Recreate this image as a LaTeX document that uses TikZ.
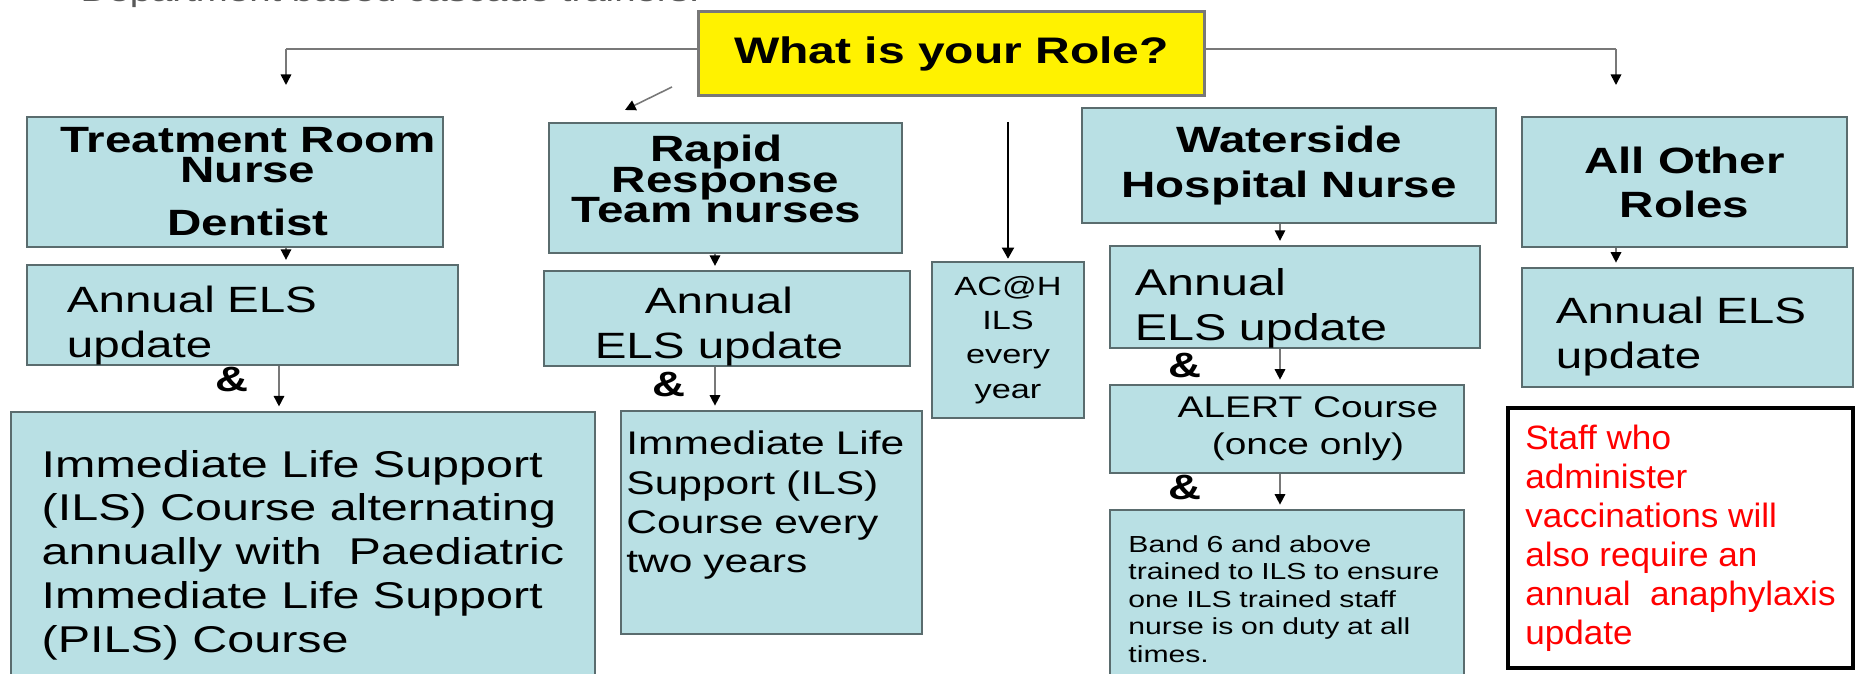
\documentclass[tikz,border=0pt]{standalone}
\usepackage{fontspec}
\setmainfont{Liberation Sans}[FakeStretch=1.3]
\newfontfamily\notefont{Liberation Sans}[FakeStretch=1.04]
\usetikzlibrary{arrows.meta}
\definecolor{boxblue}{RGB}{185,224,228}
\definecolor{boxedge}{RGB}{90,108,110}
\definecolor{linegrey}{RGB}{120,120,120}
\lineskiplimit=-10pt
\tikzset{
  rolebox/.style={draw=boxedge, fill=boxblue, line width=0.6pt, inner sep=0pt},
  headtext/.style={font=\fontsize{10.4}{12.8}\selectfont\bfseries, align=center},
  bodytext/.style={font=\fontsize{10.4}{12.8}\selectfont},
  amp/.style={font=\fontsize{10}{12}\selectfont\bfseries, anchor=base, inner sep=0pt},
  branch/.style={draw=linegrey, line width=0.75pt},
  stepline/.style={draw=linegrey, line width=0.45pt, -{Triangle[length=3pt,width=3pt,color=black]}, shorten >=1.2pt},
}

\begin{document}
\begin{tikzpicture}[x=0.01cm, y=-0.01cm]
                    \useasboundingbox (0,0) rectangle (1856,674);
                    \clip (0,0) rectangle (1856,674);

                    \node[anchor=base west, inner sep=0pt, text=black!65, font=\fontsize{8.4}{10}\selectfont] (dept) at (80,1.5) {Department based cascade trainers.};

                    \node[rolebox, fill=yellow, draw=linegrey, line width=0.85pt, minimum width=5.05cm, minimum height=0.83cm, font=\fontsize{10.5}{12.8}\selectfont\bfseries] (role) at (951.5,53.5) {What is your Role?};

                    \node[rolebox, headtext, font=\fontsize{10.4}{8.5}\selectfont\bfseries, minimum width=4.16cm, minimum height=1.30cm] (treat) at (235,182) {\hspace*{0.26cm}Treatment Room\\\hspace*{0.26cm}Nurse\\[6.6pt]\hspace*{0.26cm}Dentist};
                    \node[rolebox, bodytext, align=left, text width=3.51cm, minimum width=4.31cm, minimum height=0.94cm] (els1) at (242.5,315) {\rule{0pt}{0.47cm}Annual ELS\\update};
                    \node[rolebox, bodytext, font=\fontsize{10.6}{12.5}\selectfont, align=left, minimum width=5.84cm, minimum height=2.87cm] (ils1) at (303,555.3) {Immediate Life Support\\(ILS) Course alternating\\annually with\ \ Paediatric\\Immediate Life Support\\(PILS) Course};

                    \node[rolebox, headtext, font=\fontsize{10.4}{8.68}\selectfont\bfseries, minimum width=3.53cm, minimum height=1.30cm] (rapid) at (725.5,188) {Rapid\hspace*{0.18cm}\\Response\hspace*{0.18cm}\\Team nurses\hspace*{0.18cm}\rule[-0.18cm]{0pt}{0.18cm}};
                    \node[rolebox, bodytext, align=center, minimum width=3.66cm, minimum height=0.93cm] (els2) at (727,318.5) {\rule{0pt}{0.42cm}Annual\hspace*{0.16cm}\\ELS update\hspace*{0.16cm}};
                    \node[rolebox, bodytext, font=\fontsize{9.3}{11.2}\selectfont, align=left, text width=2.9cm, minimum width=3.01cm, minimum height=2.23cm] (ils2) at (771.5,522.5) {Immediate Life\\Support (ILS)\\Course every\\two years\rule[-0.41cm]{0pt}{0.41cm}};

                    \node[rolebox, bodytext, font=\fontsize{7.5}{9.77}\selectfont, align=center, minimum width=1.52cm, minimum height=1.56cm] (acah) at (1008,340) {AC@H\\ILS\\every\\year};

                    \node[rolebox, headtext, minimum width=4.14cm, minimum height=1.15cm] (water) at (1289,165.5) {Waterside\\Hospital Nurse};
                    \node[rolebox, bodytext, font=\fontsize{10.6}{12.8}\selectfont, align=left, text width=3.2cm, minimum width=3.70cm, minimum height=0.94cm] (els3) at (1295,297) {\rule{0pt}{0.49cm}Annual\\ELS update};
                    \node[rolebox, bodytext, font=\fontsize{8.5}{10.5}\selectfont, align=center, minimum width=3.54cm, minimum height=0.88cm] (alert) at (1287,429) {\hspace*{0.42cm}ALERT Course\\\hspace*{0.42cm}(once only)};
                    \node[rolebox, bodytext, font=\fontsize{6.6}{7.8}\selectfont, align=left, text width=3.17cm, minimum width=3.54cm, minimum height=1.78cm] (band) at (1287,599) {Band 6 and above\\trained to ILS to ensure\\one ILS trained staff\\nurse is on duty at all\\times.};

                    \node[rolebox, headtext, font=\fontsize{10.4}{12.5}\selectfont\bfseries, minimum width=3.25cm, minimum height=1.30cm] (other) at (1684.5,182) {All Other\\Roles};
                    \node[rolebox, bodytext, align=left, text width=2.63cm, minimum width=3.31cm, minimum height=1.19cm] (els4) at (1687.5,327.5) {\rule{0pt}{0.44cm}Annual ELS\\update};
                    \node[draw=black, line width=0.95pt, fill=white, inner sep=0pt, minimum width=3.45cm, minimum height=2.60cm, align=left, text=red, font=\notefont\fontsize{9.6}{11.1}\selectfont] (note) at (1680.5,538) {Staff who\\administer\\vaccinations will\\also require an\\annual\ \ anaphylaxis\\update};

                    \node[amp] (amp1) at (232,392) {\&};
                    \node[amp] (amp2) at (669,397) {\&};
                    \node[amp] (amp3) at (1185,378) {\&};
                    \node[amp] (amp4) at (1185,500) {\&};

                    \coordinate (lcorner) at (286,49);
                    \coordinate (ltip) at (286,85);
                    \coordinate (rcorner) at (1616,49);
                    \coordinate (rtip) at (1616,85);
                    \coordinate (dstart) at (672,87);
                    \coordinate (dtip) at (625,110);
                    \coordinate (acstart) at (1006,122);
                    \coordinate (col1) at (286,0);
                    \coordinate (col1b) at (279,0);
                    \coordinate (col2) at (715,0);
                    \coordinate (col3) at (1280,0);
                    \coordinate (col4) at (1616,0);

                    \draw[branch] (role.west |- lcorner) -- (lcorner);
                    \draw[stepline, shorten >=0pt] (lcorner) -- (ltip);
                    \draw[branch] (role.east |- rcorner) -- (rcorner);
                    \draw[stepline, shorten >=0pt] (rcorner) -- (rtip);
                    \draw[stepline, shorten >=0pt] (dstart) -- (dtip);
                    \draw[line width=0.65pt, -{Triangle[length=3.2pt,width=3.4pt]}, shorten >=0.6pt] (acah.north |- acstart) -- (acah.north);

                    \draw[stepline] (treat.south -| col1) -- (els1.north -| col1);
                    \draw[stepline] (els1.south -| col1b) -- (ils1.north -| col1b);
                    \draw[stepline] (rapid.south -| col2) -- (els2.north -| col2);
                    \draw[stepline] (els2.south -| col2) -- (ils2.north -| col2);
                    \draw[stepline] (water.south -| col3) -- (els3.north -| col3);
                    \draw[stepline] (els3.south -| col3) -- (alert.north -| col3);
                    \draw[stepline] (alert.south -| col3) -- (band.north -| col3);
                    \draw[stepline] (other.south -| col4) -- (els4.north -| col4);
                \end{tikzpicture}
\end{document}
